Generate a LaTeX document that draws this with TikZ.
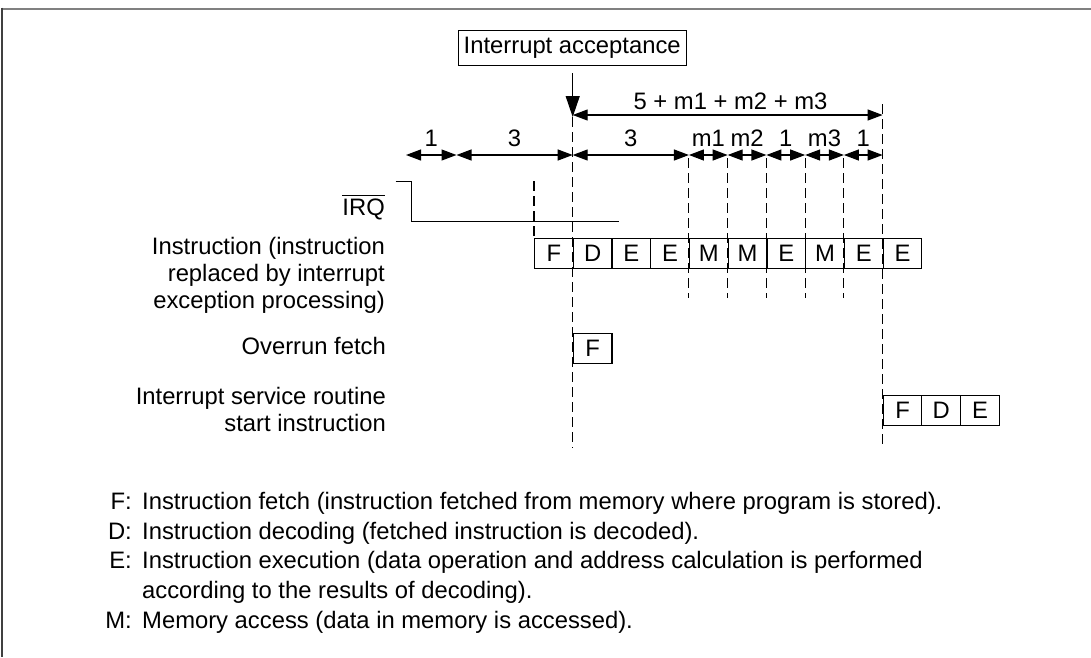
\documentclass[tikz,border=0pt]{standalone}
\usepackage{fontspec}
\setmainfont{Liberation Sans}
\usetikzlibrary{arrows.meta,calc}
\newcommand{\ovlbar}[1]{\vbox{\hrule height 1.1pt\kern 2.4pt\hbox{#1}}}
\begin{document}
\begin{tikzpicture}[x=1pt,y=-1pt,
  every node/.style={font=\fontsize{23.8}{27}\selectfont, inner sep=0pt},
  cell/.style={draw, line width=1.1pt, minimum width=38.74pt, minimum height=30pt, anchor=north west},
  dim/.style={line width=1.2pt, {Triangle[length=15pt,width=11pt]}-{Triangle[length=15pt,width=11pt]}},
  guide/.style={line width=1.1pt, dash pattern=on 10pt off 5pt},
  sig/.style={line width=1.1pt},
  key/.style={anchor=base east},
  desc/.style={anchor=base west},
]
\useasboundingbox (0,0) rectangle (1091,657);
% frame
\draw[gray, line width=2pt] (1,8.5) -- (1091,8.5);
\draw[black!75, line width=2pt] (1.5,7.5) -- (1.5,657);

% interrupt acceptance
\node[draw, line width=1.1pt, minimum width=228pt, minimum height=35pt] (acc) at (572.2,47.7) {Interrupt acceptance};
\coordinate (arrS) at (572.7,73);
\coordinate (arrE) at (572.7,117);
\draw[line width=1.2pt, -{Triangle[length=21pt,width=14pt]}] (arrS) -- (arrE);

% top dimension
\coordinate (T0) at (572.7,115);
\coordinate (T1) at (882.6,115);
\draw[dim] (T0) -- (T1);
\node[anchor=base] (toplab) at (730.5,109.3) {5 + m1 + m2 + m3};

% second row of dimensions
\coordinate (a0) at (406,155);
\coordinate (a1) at (456.5,155);
\coordinate (a2) at (572.7,155);
\coordinate (a3) at (688.92,155);
\coordinate (a4) at (727.66,155);
\coordinate (a5) at (766.4,155);
\coordinate (a6) at (805.14,155);
\coordinate (a7) at (843.88,155);
\coordinate (a8) at (882.62,155);
\foreach \p/\q/\t in {a0/a1/1, a1/a2/3, a2/a3/3, a3/a4/m1, a4/a5/m2, a5/a6/1, a6/a7/m3, a7/a8/1}{
  \draw[dim] (\p) -- (\q);
  \node[anchor=base] (l\p) at ($(\p)!0.5!(\q)+(0,-8.3)$) {\t};
}

% guide lines
\coordinate (g0) at (533.96,181);
\coordinate (gA) at (572.7,448);
\coordinate (gBt) at (882.62,104);
\coordinate (gB) at (882.62,448);
\foreach \x [count=\i] in {688.92,727.66,766.4,805.14,843.88}{
  \coordinate (gt\i) at (\x,158);
  \coordinate (gb\i) at (\x,298);
}

% instruction cells
\foreach \l [count=\i from 0] in {F,D,E,E,M,M,E,M,E,E}{
  \node[cell] (c\i) at ({533.96+\i*38.74},237.7) {\l};
}
\node[cell] (ov) at (572.7,332.7) {F};
\node[cell] (s0) at (882.62,395) {F};
\node[cell] (s1) at (921.36,395) {D};
\node[cell] (s2) at (960.1,395) {E};

\draw[guide] (g0) -- (c0.north west);
\draw[guide] (arrE) -- (gA);
\draw[guide] (gBt) -- (gB);
\foreach \i in {1,...,5}{ \draw[guide] (gt\i) -- (gb\i); }

% IRQ signal
\coordinate (q0) at (395.5,181.3);
\coordinate (q1) at (411.6,181.3);
\coordinate (q2) at (411.6,221.3);
\coordinate (q3) at (619.3,221.3);
\draw[sig] (q0) -- (q1) -- (q2) -- (q3);

% left labels
\node[anchor=base east] (irq) at (385,215) {\ovlbar{IRQ}};
\node[anchor=north east, align=right] (instr) at (385,237.4) {Instruction (instruction\\replaced by interrupt\\exception processing)};
\node[anchor=base east] (ovlab) at (386,354.3) {Overrun fetch};
\node[anchor=north east, align=right] (isr) at (386,387.3) {Interrupt service routine\\start instruction};

% legend
\node[key] (kF) at (132,509.6) {F:};
\node[desc] (dF) at (142,509.6) {Instruction fetch (instruction fetched from memory where program is stored).};
\node[key] (kD) at (132,539.2) {D:};
\node[desc] (dD) at (142,539.2) {Instruction decoding (fetched instruction is decoded).};
\node[key] (kE) at (132,568.8) {E:};
\node[desc] (dE) at (142,568.8) {Instruction execution (data operation and address calculation is performed};
\node[desc] (dE2) at (142,598.4) {according to the results of decoding).};
\node[key] (kM) at (132,628) {M:};
\node[desc] (dM) at (142,628) {Memory access (data in memory is accessed).};
\end{tikzpicture}
\end{document}
